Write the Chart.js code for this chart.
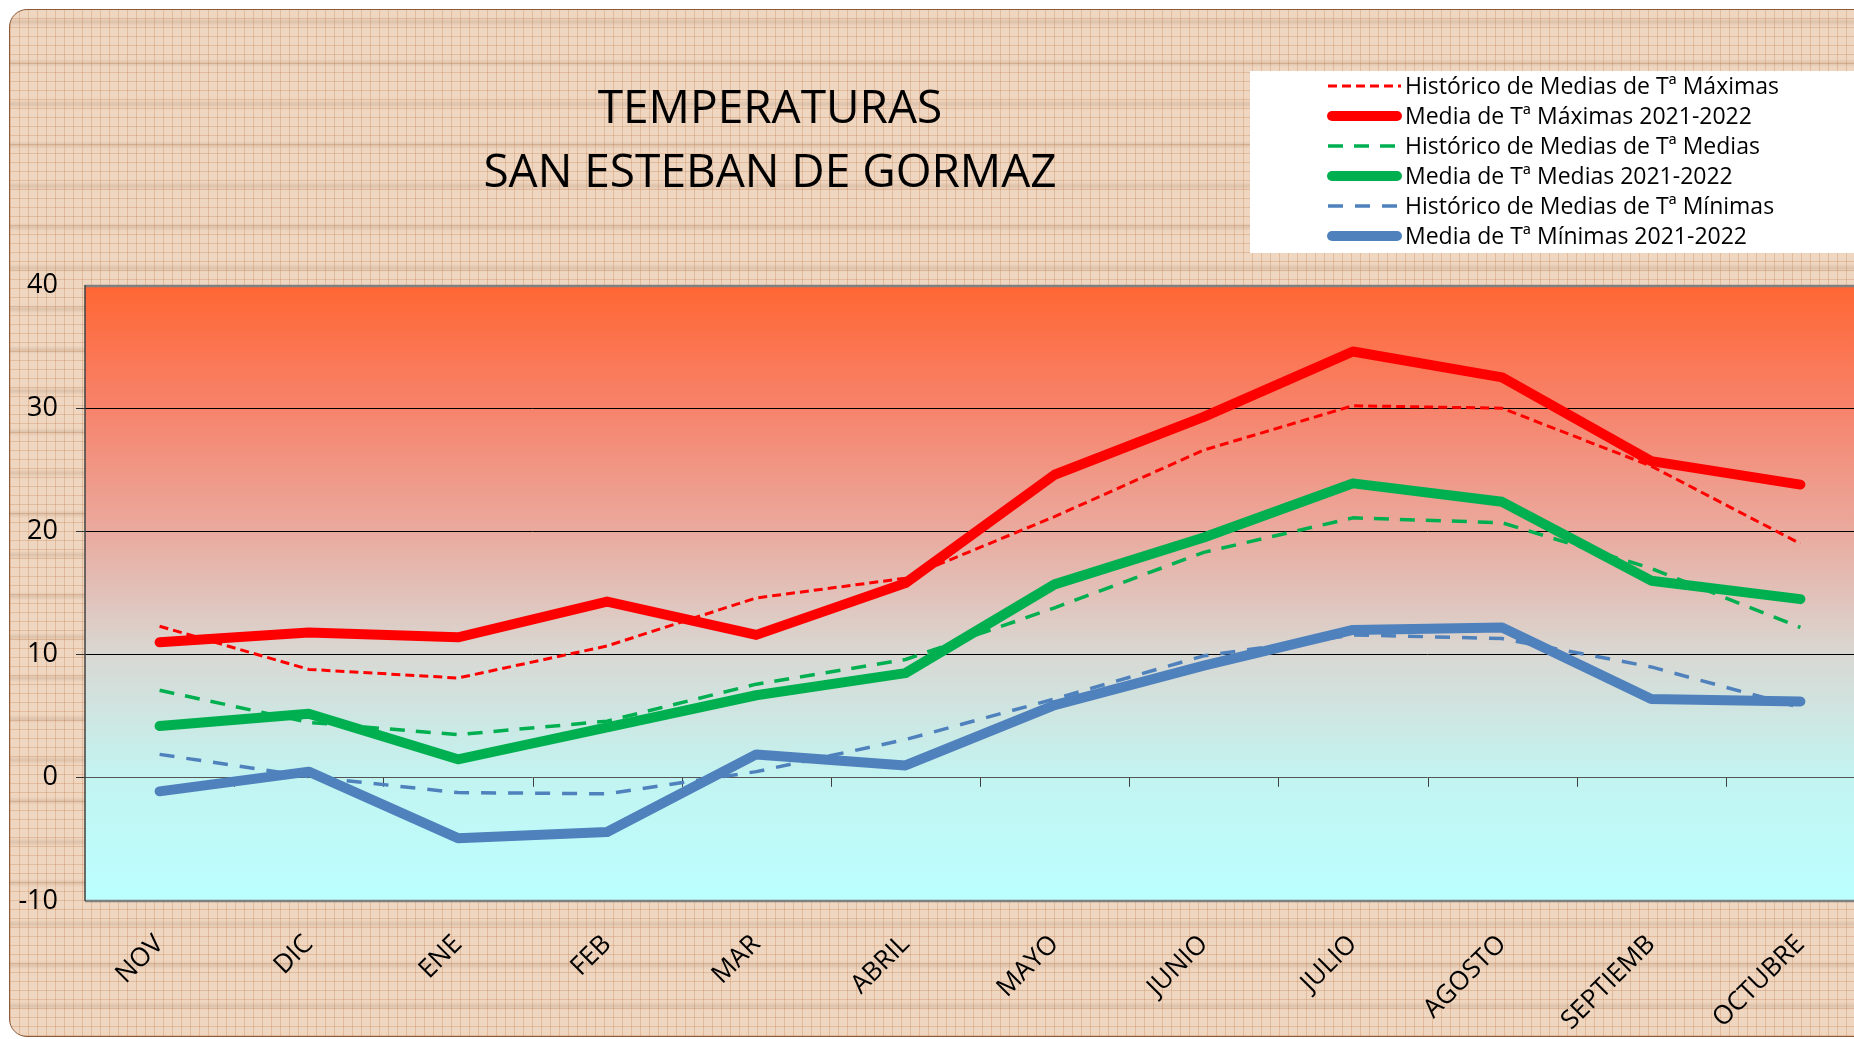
<!DOCTYPE html>
<html>
<head>
<meta charset="utf-8">
<script src="https://cdn.jsdelivr.net/npm/chart.js@4"></script>
<style>
  html, body { margin: 0; padding: 0; background: #fff; overflow: hidden; }
  #card {
    position: absolute; left: 9px; top: 9px; width: 2000px; height: 1026px;
    border: 1.5px solid #8b5a3a; border-radius: 18px;
    background-color: #efd6c0;
    background-image:
      repeating-linear-gradient(0deg, transparent 0px, transparent 26px, rgba(130,90,60,0.16) 30px, transparent 34px, transparent 41px),
      repeating-linear-gradient(0deg, rgba(195,130,80,0.32) 0px, rgba(195,130,80,0.32) 1px, transparent 1px, transparent 9px),
      repeating-linear-gradient(90deg, rgba(195,130,80,0.32) 0px, rgba(195,130,80,0.32) 1px, transparent 1px, transparent 9px);
  }
  #wrap { position: absolute; left: 0; top: 0; width: 1900px; height: 1039px; }
</style>
</head>
<body>
<div id="card"></div>
<div id="wrap"><canvas id="chart" width="1900" height="1039"></canvas></div>
<script>
const months = ["NOV", "DIC", "ENE", "FEB", "MAR", "ABRIL", "MAYO", "JUNIO", "JULIO", "AGOSTO", "SEPTIEMB", "OCTUBRE"];

const histMax = [12.3, 8.8, 8.1, 10.7, 14.6, 16.2, 21.2, 26.6, 30.2, 30.0, 25.3, 19.0];
const mediaMax = [11.0, 11.8, 11.4, 14.3, 11.6, 15.8, 24.6, 29.3, 34.6, 32.5, 25.7, 23.8];
const histMed = [7.1, 4.5, 3.5, 4.6, 7.6, 9.6, 13.8, 18.3, 21.1, 20.7, 17.0, 12.2];
const mediaMed = [4.2, 5.2, 1.5, 4.1, 6.7, 8.5, 15.7, 19.5, 23.9, 22.4, 16.0, 14.5];
const histMin = [1.9, 0.1, -1.2, -1.3, 0.5, 3.1, 6.4, 9.9, 11.6, 11.3, 9.0, 5.7];
const mediaMin = [-1.1, 0.5, -4.9, -4.4, 1.9, 1.0, 5.9, 9.1, 12.0, 12.2, 6.4, 6.2];

const yTicks = [40, 30, 20, 10, 0, -10];
const titleLines = ["TEMPERATURAS", "SAN ESTEBAN DE GORMAZ"];

const fontFamily = "'Open Sans', 'Noto Sans', sans-serif";

const plotBackground = {
    id: "plotBackground",
    beforeDraw(chart) {
        const { ctx, chartArea: a } = chart;
        const g = ctx.createLinearGradient(0, a.top, 0, a.bottom);
        g.addColorStop(0, "#ff6633");
        g.addColorStop(0.2, "#f7836b");
        g.addColorStop(0.4, "#eaaa9e");
        g.addColorStop(0.6, "#d9d8d3");
        g.addColorStop(0.8, "#c2f4f1");
        g.addColorStop(1, "#bbffff");
        ctx.save();
        ctx.fillStyle = g;
        ctx.fillRect(a.left, a.top, a.right - a.left, a.bottom - a.top);
        ctx.restore();
    },
    beforeDatasetsDraw(chart) {
        const { ctx, chartArea: a, scales } = chart;
        ctx.save();
        // plot border top / bottom
        ctx.strokeStyle = "#808080";
        ctx.lineWidth = 2.5;
        ctx.beginPath();
        ctx.moveTo(a.left, a.top + 1);
        ctx.lineTo(a.right, a.top + 1);
        ctx.moveTo(a.left, a.bottom);
        ctx.lineTo(a.right, a.bottom);
        ctx.stroke();
        // left axis
        ctx.strokeStyle = "#404040";
        ctx.lineWidth = 1.5;
        ctx.beginPath();
        ctx.moveTo(a.left, a.top);
        ctx.lineTo(a.left, a.bottom);
        ctx.stroke();
        // category tick marks on the zero line
        const y0 = scales.y.getPixelForValue(0);
        const half = (scales.x.getPixelForValue(1) - scales.x.getPixelForValue(0)) / 2;
        ctx.strokeStyle = "#404040";
        ctx.lineWidth = 1;
        ctx.beginPath();
        for (let i = 1; i < months.length; i++) {
            const x = Math.round(scales.x.getPixelForValue(i) - half) + 0.5;
            ctx.moveTo(x, y0);
            ctx.lineTo(x, y0 + 9);
        }
        ctx.stroke();
        ctx.restore();
    },
    afterDraw(chart) {
        const { ctx } = chart;
        ctx.save();
        // title
        ctx.fillStyle = "#000";
        ctx.textAlign = "center";
        ctx.textBaseline = "middle";
        ctx.font = `46px ${fontFamily}`;
        ctx.fillText(titleLines[0], 770, 110);
        ctx.fillText(titleLines[1], 770, 174);
        // legend box
        ctx.fillStyle = "#ffffff";
        ctx.fillRect(1250, 71, 700, 182);
        ctx.font = `23px ${fontFamily}`;
        ctx.textAlign = "left";
        chart.data.datasets.forEach((ds, i) => {
            const y = 86 + i * 30;
            ctx.strokeStyle = ds.borderColor;
            ctx.lineWidth = ds.borderWidth;
            ctx.lineCap = ds.borderDash.length ? "butt" : "round";
            ctx.setLineDash(ds.borderDash);
            ctx.beginPath();
            ctx.moveTo(ds.borderDash.length ? 1328 : 1332, y);
            ctx.lineTo(ds.borderDash.length ? 1401 : 1397, y);
            ctx.stroke();
            ctx.setLineDash([]);
            ctx.fillStyle = "#000";
            ctx.fillText(ds.label, 1405, y + 1);
        });
        ctx.restore();
    }
};

const makeSet = (label, data, color, width, dash) => ({
    label,
    data,
    borderColor: color,
    backgroundColor: color,
    borderWidth: width,
    borderDash: dash,
    borderCapStyle: dash.length ? "butt" : "round",
    borderJoinStyle: "round",
    pointRadius: 0,
    tension: 0,
    fill: false
});

new Chart(document.getElementById("chart"), {
    type: "line",
    data: {
        labels: months,
        datasets: [
            makeSet("Histórico de Medias de Tª Máximas", histMax, "#ff0000", 3, [9, 5]),
            makeSet("Media de Tª Máximas 2021-2022", mediaMax, "#ff0000", 10, []),
            makeSet("Histórico de Medias de Tª Medias", histMed, "#00b050", 3.5, [15, 11]),
            makeSet("Media de Tª Medias 2021-2022", mediaMed, "#00b050", 10, []),
            makeSet("Histórico de Medias de Tª Mínimas", histMin, "#4f81bd", 3.5, [15, 12]),
            makeSet("Media de Tª Mínimas 2021-2022", mediaMin, "#4f81bd", 10, [])
        ]
    },
    options: {
        responsive: false,
        animation: false,
        devicePixelRatio: 1,
        layout: { padding: { top: 285, right: 25, left: 0, bottom: 0 } },
        plugins: {
            legend: { display: false },
            title: { display: false },
            tooltip: { enabled: false }
        },
        scales: {
            x: {
                offset: true,
                grid: { display: false },
                border: { display: false },
                afterFit: s => { s.height = 138; },
                ticks: {
                    color: "#000",
                    minRotation: 45,
                    maxRotation: 45,
                    padding: 20,
                    font: { family: fontFamily, size: 26 }
                }
            },
            y: {
                min: -10,
                max: 40,
                afterFit: s => { s.width = 85; },
                afterBuildTicks: s => { s.ticks = yTicks.map(v => ({ value: v })); },
                border: { display: false },
                grid: {
                    color: c => (c.tick && c.tick.value === 0 ? "#555555" : "#000000"),
                    lineWidth: c => (c.tick && (c.tick.value === 40 || c.tick.value === -10) ? 0 : 1),
                    tickColor: "#333333",
                    tickLength: 9
                },
                ticks: {
                    color: "#000",
                    padding: 18,
                    font: { family: fontFamily, size: 27 }
                }
            }
        }
    },
    plugins: [plotBackground]
});
</script>
</body>
</html>
